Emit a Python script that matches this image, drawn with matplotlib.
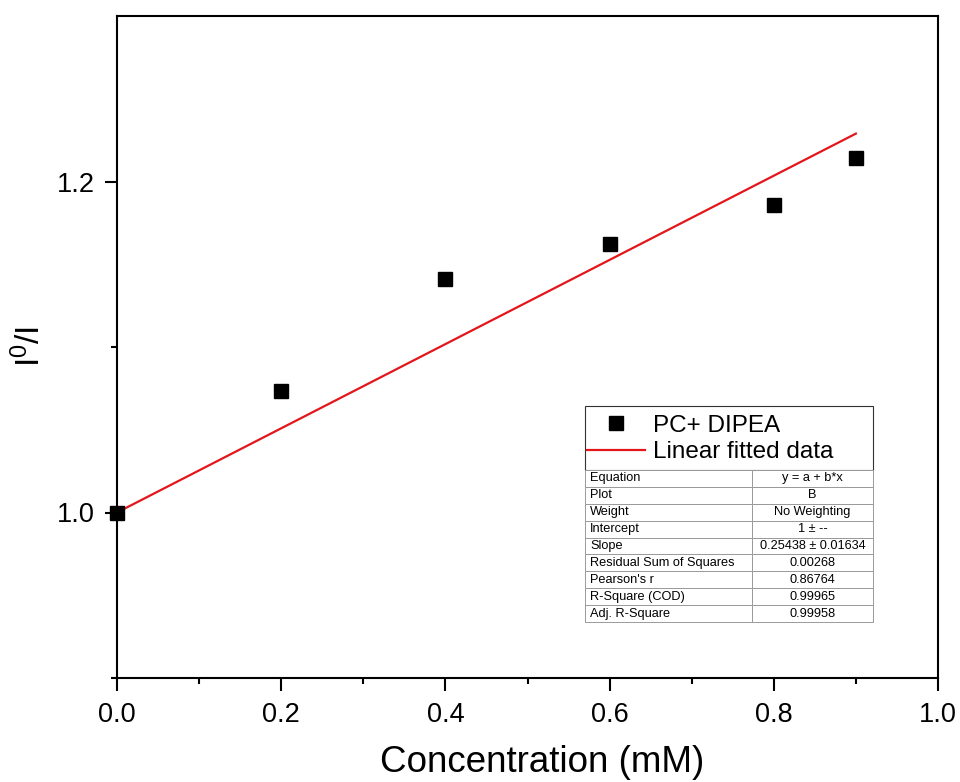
import matplotlib
matplotlib.use("Agg")
import matplotlib.pyplot as plt
import numpy as np
from matplotlib.ticker import MultipleLocator
from matplotlib.lines import Line2D
from matplotlib.patches import Rectangle

plt.rcParams['font.family'] = ['Liberation Sans', 'DejaVu Sans']
plt.rcParams['mathtext.fontset'] = 'custom'
plt.rcParams['mathtext.rm'] = 'Liberation Sans'
plt.rcParams['mathtext.it'] = 'Liberation Sans'

# data
conc = [0.0, 0.2, 0.4, 0.6, 0.8, 0.9]
ratio = [1.0, 1.0737, 1.1408, 1.1625, 1.1855, 1.2145]

intercept = 1.0
slope = 0.25438

table_rows = [
    ["Equation", "y = a + b*x"],
    ["Plot", "B"],
    ["Weight", "No Weighting"],
    ["Intercept", "1 \u00b1 --"],
    ["Slope", "0.25438 \u00b1 0.01634"],
    ["Residual Sum of Squares", "0.00268"],
    ["Pearson's r", "0.86764"],
    ["R-Square (COD)", "0.99965"],
    ["Adj. R-Square", "0.99958"],
]

fig = plt.figure(figsize=(9.6, 7.82), dpi=100)
ax = fig.add_axes([117/960, 1 - 678/782, 821/960, 662/782])

fit_x = np.array([conc[0], conc[-1]])
fit_y = intercept + slope * fit_x
ax.plot(fit_x, fit_y, color='#e3161c', lw=1.6, zorder=2)
ax.plot(conc, ratio, 's', color='black', ms=10, zorder=3, clip_on=False)

ax.set_xlim(0, 1.0)
ax.set_ylim(0.9, 1.3)
ax.xaxis.set_major_locator(MultipleLocator(0.2))
ax.xaxis.set_minor_locator(MultipleLocator(0.1))
ax.set_yticks([1.0, 1.2])
ax.set_yticks([0.9, 1.1], minor=True)
ax.xaxis.set_major_formatter(plt.FormatStrFormatter('%.1f'))
ax.yaxis.set_major_formatter(plt.FormatStrFormatter('%.1f'))

for sp in ax.spines.values():
    sp.set_linewidth(1.5)
ax.tick_params(which='major', direction='out', length=9, width=1.5,
               labelsize=19.5)
ax.tick_params(which='minor', direction='out', length=4.5, width=1.5)
ax.tick_params(axis='x', which='major', pad=8)
ax.tick_params(axis='y', which='major', pad=7)
ax.tick_params(top=False, right=False, which='both')

ax.set_xlabel("Concentration (mM)", fontsize=26.5)
ax.set_ylabel(r"I$^{0}$/I", fontsize=24)
ax.xaxis.set_label_coords(0.518, -0.128)
ax.xaxis.label.set_va('center')
ax.yaxis.set_label_coords(-0.106, 0.50)
ax.yaxis.label.set_va('center')

# legend box
lx0 = (585 - 117) / 821
lw = 288 / 821
ly0 = (678 - 470) / 662
lh = 64 / 662
ax.add_patch(Rectangle((lx0, ly0), lw, lh, transform=ax.transAxes,
                       facecolor='white', edgecolor='#333333', lw=0.8, zorder=4))
handles = [
    Line2D([], [], marker='s', ls='none', color='black', ms=10),
    Line2D([], [], color='#e3161c', lw=1.6),
]
leg = ax.legend(handles, ["PC+ DIPEA", "Linear fitted data"],
                loc='upper left', bbox_to_anchor=(lx0 - 0.002, ly0 + lh - 0.008),
                frameon=False, fontsize=17.5, handlelength=2.4,
                handletextpad=0.3, labelspacing=0.18, borderpad=0.15,
                borderaxespad=0)
leg.set_zorder(5)

# fit statistics table
ty0 = (678 - 622) / 662
th = 152 / 662
tbl = ax.table(cellText=table_rows, colWidths=[167 / 288, 121 / 288],
               bbox=[lx0, ty0, lw, th], zorder=5)
tbl.auto_set_font_size(False)
for (r, c), cell in tbl.get_celld().items():
    cell.set_edgecolor('#9a9a9a')
    cell.set_linewidth(0.7)
    cell.set_facecolor('white')
    cell.get_text().set_fontsize(9.2)
    if c == 0:
        cell.get_text().set_ha('left')
        cell.PAD = 0.03
    else:
        cell.get_text().set_ha('center')

fig.savefig("out.png", dpi=100)
